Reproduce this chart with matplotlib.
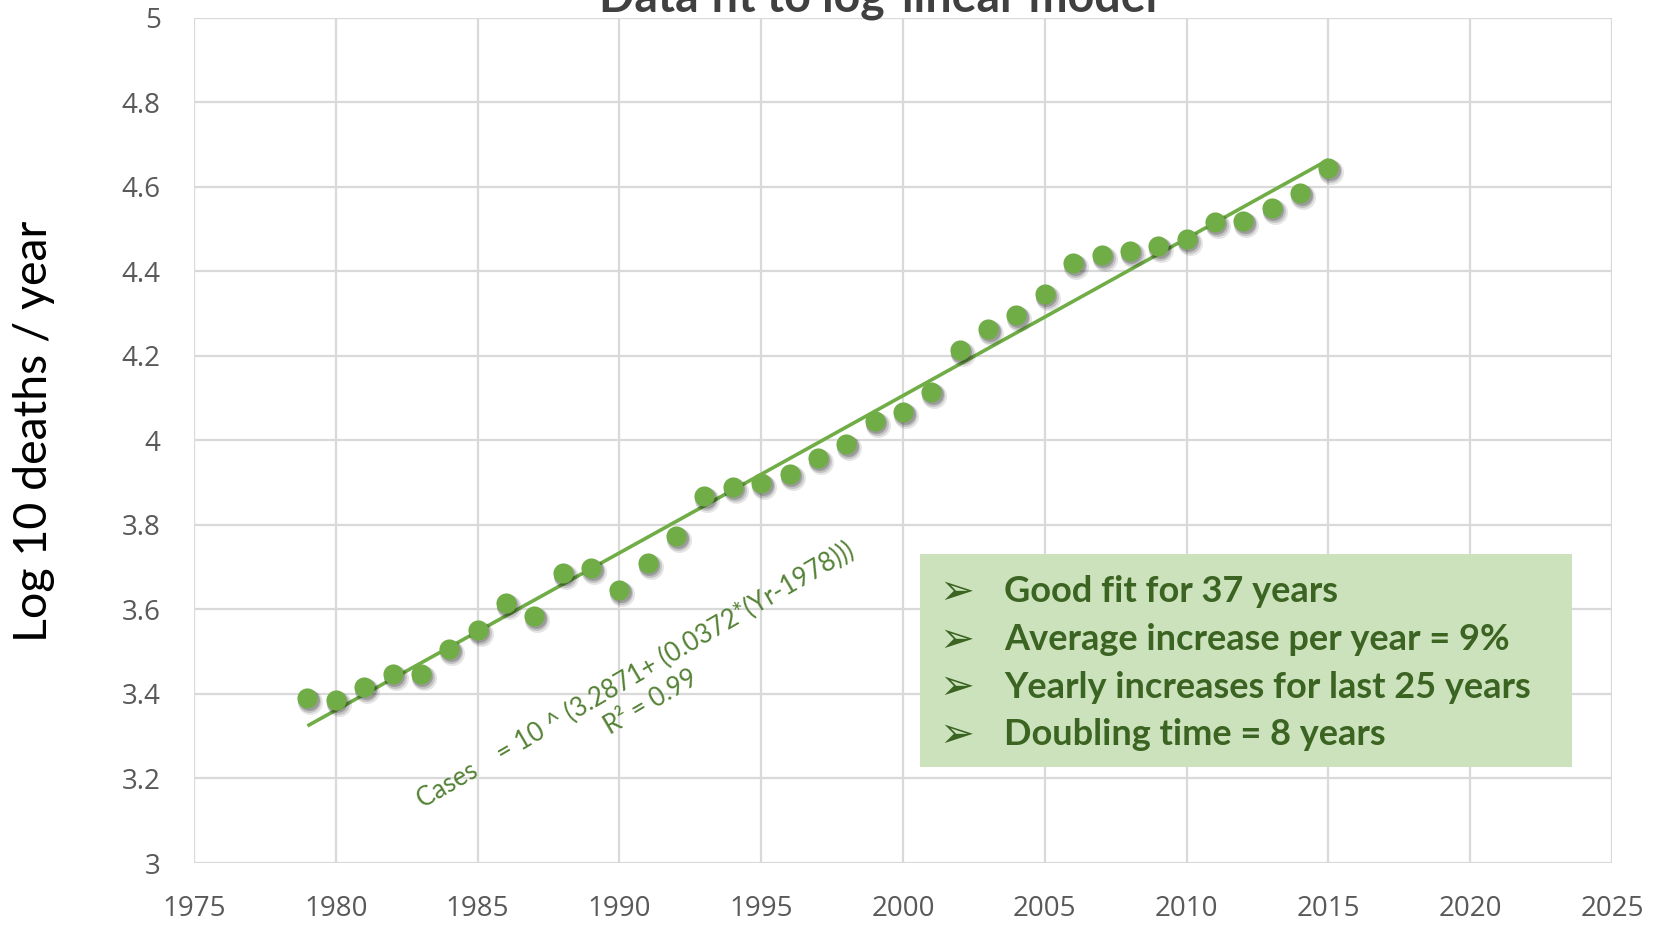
import matplotlib
matplotlib.use("Agg")
import matplotlib.pyplot as plt
import matplotlib.transforms as mtransforms
from matplotlib.patches import Rectangle
import numpy as np

# ---------------- data ----------------
years = list(range(1979, 2016))
log_deaths = [3.391, 3.385, 3.416, 3.448, 3.446, 3.507, 3.551, 3.616, 3.585,
              3.685, 3.697, 3.646, 3.710, 3.774, 3.868, 3.890, 3.900, 3.919,
              3.957, 3.990, 4.045, 4.066, 4.114, 4.214, 4.263, 4.297, 4.347,
              4.419, 4.439, 4.447, 4.459, 4.475, 4.517, 4.519, 4.550, 4.584,
              4.644]
fit_intercept = 3.2871
fit_slope = 0.0372
fit_base_year = 1978
x_ticks = [1975, 1980, 1985, 1990, 1995, 2000, 2005, 2010, 2015, 2020, 2025]
y_ticks = [3, 3.2, 3.4, 3.6, 3.8, 4, 4.2, 4.4, 4.6, 4.8, 5]
title = "Data fit to log-linear model"
ylabel = "Log 10 deaths / year"
equation = "Cases    = 10 ^ (3.2871+ (0.0372*(Yr-1978)))\nR² = 0.99"
bullets = ["Good fit for 37 years",
           "Average increase per year = 9%",
           "Yearly increases for last 25 years",
           "Doubling time = 8 years"]

# ---------------- style ----------------
GREEN = "#70AD47"
DARK_GREEN = "#3B6321"
EQ_GREEN = "#548235"
BOX_FILL = "#CCE2BC"
GRID = "#D9D9D9"
TICK = "#595959"

W, H, DPI = 1658, 925, 100
fig = plt.figure(figsize=(W / DPI, H / DPI), dpi=DPI)
fig.patch.set_facecolor("white")

left, right, top, bottom = 194, 1612, 17.5, 863
ax = fig.add_axes([left / W, 1 - bottom / H, (right - left) / W, (bottom - top) / H])
ax.set_xlim(1975, 2025)
ax.set_ylim(3, 5)
ax.set_xticks(x_ticks)
ax.set_yticks(y_ticks)
ax.set_xticklabels([str(t) for t in x_ticks])
ax.set_yticklabels([f"{t:g}" for t in y_ticks])
for lab in ax.get_xticklabels() + ax.get_yticklabels():
    lab.set_fontfamily("Open Sans")
    lab.set_fontsize(20)
    lab.set_color(TICK)
ax.tick_params(axis="both", length=0)
ax.tick_params(axis="y", pad=24)
ax.tick_params(axis="x", pad=23)
for s in ax.spines.values():
    s.set_visible(False)
ax.grid(True, color=GRID, linewidth=1.6)
ax.set_axisbelow(True)
ax.set_clip_on(False)

# trend line
fx = np.array([years[0], years[-1]], dtype=float)
fy = fit_intercept + fit_slope * (fx - fit_base_year)
ax.plot(fx, fy, color=GREEN, linewidth=2.6, zorder=3, solid_capstyle="butt")

# marker shadows then markers
for dx, dy, a, ms in [(3, -4, 0.10, 18), (2, -3, 0.15, 16.5), (1.5, -2, 0.2, 15)]:
    tr = mtransforms.offset_copy(ax.transData, fig=fig, x=dx, y=dy, units="dots")
    ax.plot(years, log_deaths, linestyle="none", marker="o", markersize=ms,
            markerfacecolor="black", markeredgecolor="none", alpha=a,
            transform=tr, zorder=3.5)
ax.plot(years, log_deaths, linestyle="none", marker="o", markersize=14.5,
        markerfacecolor=GREEN, markeredgecolor="none", zorder=4)

# title (partially cut at top, as in the original)
fig.text(878 / W, 1 - 12 / H, title, ha="center", va="baseline",
         fontsize=33.5, fontweight="bold", color="#404040",
         family=["Lato", "DejaVu Sans"])

# y label
fig.text(34 / W, 1 - 431 / H, ylabel, rotation=90, ha="center", va="center",
         fontsize=33.5, color="black", family=["Lato", "DejaVu Sans"])

# equation text
ax.text(1990.85, 3.412, equation, rotation=30.3, rotation_mode="anchor",
        ha="center", va="center", multialignment="center",
        fontsize=18.5, color=EQ_GREEN, family=["Lato", "DejaVu Sans"],
        linespacing=1.3, zorder=5)

# annotation box
bx0, bx1, by0, by1 = 920, 1572, 554, 767
fig.patches.append(Rectangle((bx0 / W, 1 - by1 / H), (bx1 - bx0) / W, (by1 - by0) / H,
                             transform=fig.transFigure, facecolor=BOX_FILL,
                             edgecolor="none", zorder=5))
for i, line in enumerate(bullets):
    yc = 592 + i * 47.6
    fig.text(957 / W, 1 - yc / H, "➢", ha="center", va="center",
             fontsize=30, color=DARK_GREEN, family=["DejaVu Sans"], zorder=6)
    fig.text(1004 / W, 1 - yc / H, line, ha="left", va="center",
             fontsize=26, fontweight="bold", color=DARK_GREEN,
             family=["Lato", "DejaVu Sans"], zorder=6)

fig.savefig("out.png", dpi=DPI)
